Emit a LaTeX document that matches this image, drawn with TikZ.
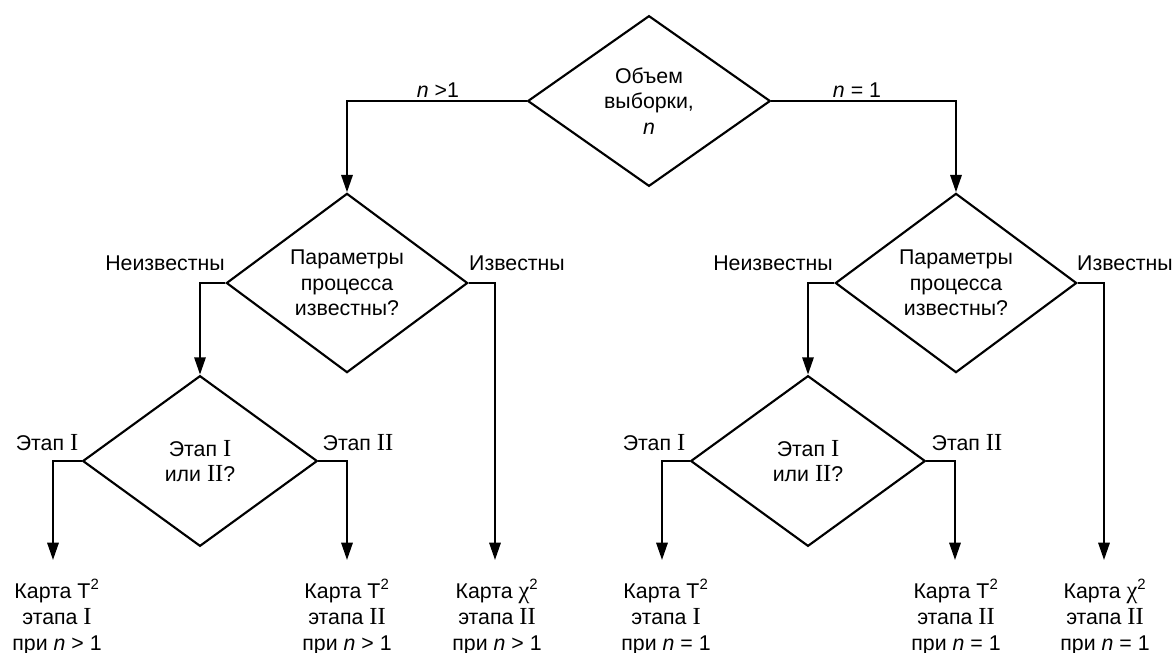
\documentclass[tikz,border=0pt]{standalone}
\usepackage{fontspec}
\setmainfont{Liberation Sans}
\newfontfamily\romfont[Scale=1.15]{Liberation Serif}
\usetikzlibrary{shapes.geometric,arrows.meta}
\begin{document}
\begin{tikzpicture}[x=0.75pt, y=-0.75pt, line width=1.6pt,
    font=\fontsize{16}{19}\selectfont,
    decision/.style={draw, diamond, inner sep=0pt, align=center, minimum height=128pt},
    branch/.style={-{Triangle[length=13pt,width=8.5pt]}},
    lbl/.style={inner sep=0pt},
    card/.style={inner sep=0pt, align=center, font=\fontsize{16}{19.5}\selectfont}]
    \def\R#1{{\romfont #1}}
    \useasboundingbox (0,0) rectangle (1175,653);
    \node[decision, minimum width=182pt] (vol) at (649,101) {Объем\\выборки,\\\textit{n}};
    \node[decision, minimum width=181pt] (parA) at (347,283) {Параметры\\процесса\\известны?};
    \node[decision, minimum width=181pt] (parB) at (956,283) {Параметры\\процесса\\известны?};
    \node[decision, minimum width=176pt] (stA) at (200,461) {Этап \R{I}\\или \R{II}?};
    \node[decision, minimum width=176pt] (stB) at (808,461) {Этап \R{I}\\или \R{II}?};
    \coordinate (tA) at (53,560);
    \coordinate (tB) at (347,560);
    \coordinate (tC) at (495,560);
    \coordinate (tD) at (662,560);
    \coordinate (tE) at (955,560);
    \coordinate (tF) at (1104,560);
    \draw[branch] (vol.west) -| (parA.north);
    \draw[branch] (vol.east) -| (parB.north);
    \draw[branch] (parA.west) -| (stA.north);
    \draw[branch] (parA.east) -| (tC);
    \draw[branch] (parB.west) -| (stB.north);
    \draw[branch] (parB.east) -| (tF);
    \draw[branch] (stA.west) -| (tA);
    \draw[branch] (stA.east) -| (tB);
    \draw[branch] (stB.west) -| (tD);
    \draw[branch] (stB.east) -| (tE);
    \node[lbl] (nMany) at (438,90) {\textit{n} >1};
    \node[lbl] (nOne) at (857,90) {\textit{n} = 1};
    \node[lbl] (unkA) at (165,263) {Неизвестны};
    \node[lbl] (knA) at (517,263) {Известны};
    \node[lbl] (unkB) at (773,263) {Неизвестны};
    \node[lbl] (knB) at (1125,263) {Известны};
    \node[lbl] (phA1) at (47,443) {Этап \R{I}};
    \node[lbl] (phA2) at (358,443) {Этап \R{II}};
    \node[lbl] (phB1) at (654,443) {Этап \R{I}};
    \node[lbl] (phB2) at (967,443) {Этап \R{II}};
    \node[card] (cardA) at (57,617) {Карта T\textsuperscript{2}\\этапа \R{I}\\при \textit{n} > 1};
    \node[card] (cardB) at (347,617) {Карта T\textsuperscript{2}\\этапа \R{II}\\при \textit{n} > 1};
    \node[card] (cardC) at (497,617) {Карта \R{χ}\textsuperscript{2}\\этапа \R{II}\\при \textit{n} > 1};
    \node[card] (cardD) at (666,617) {Карта T\textsuperscript{2}\\этапа \R{I}\\при \textit{n} = 1};
    \node[card] (cardE) at (956,617) {Карта T\textsuperscript{2}\\этапа \R{II}\\при \textit{n} = 1};
    \node[card] (cardF) at (1105,617) {Карта \R{χ}\textsuperscript{2}\\этапа \R{II}\\при \textit{n} = 1};
\end{tikzpicture}
\end{document}
